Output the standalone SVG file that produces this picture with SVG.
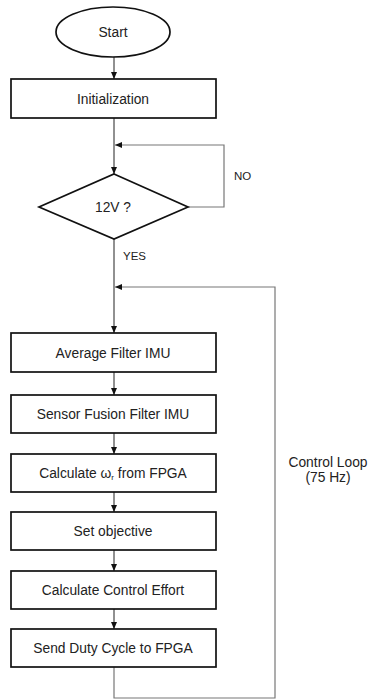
<svg xmlns="http://www.w3.org/2000/svg" width="375" height="700" viewBox="0 0 375 700">
<style>
.n{fill:#fff;stroke:#111;stroke-width:1.7}
.t{font-family:"Liberation Sans",Arial,sans-serif;font-size:13.8px;fill:#222;text-anchor:middle}
.l{font-family:"Liberation Sans",Arial,sans-serif;font-size:11.5px;fill:#222}
.c{fill:none;stroke:#222;stroke-width:1}
.g{fill:none;stroke:#777;stroke-width:1.2}
</style>
<defs>
<marker id="a" markerWidth="8" markerHeight="8" refX="7" refY="4" orient="auto" markerUnits="userSpaceOnUse">
<path d="M0,1 L7,4 L0,7 Z" fill="#111"/>
</marker>
</defs>
<rect width="375" height="700" fill="#fff"/>
<g id="connectors">
<line class="c" x1="114" y1="57" x2="114" y2="79" marker-end="url(#a)"/>
<line class="c" x1="114" y1="118" x2="114" y2="174" marker-end="url(#a)"/>
<polyline class="g" points="188,207 224,207 224,145 115,145" marker-end="url(#a)"/>
<line class="c" x1="114" y1="239" x2="114" y2="333" marker-end="url(#a)"/>
<polyline class="g" points="114,667 114,698 275,698 275,287 115,287" marker-end="url(#a)"/>
<line class="c" x1="114" y1="372" x2="114" y2="395" marker-end="url(#a)"/>
<line class="c" x1="114" y1="433" x2="114" y2="454" marker-end="url(#a)"/>
<line class="c" x1="114" y1="492" x2="114" y2="512" marker-end="url(#a)"/>
<line class="c" x1="114" y1="550" x2="114" y2="571" marker-end="url(#a)"/>
<line class="c" x1="114" y1="609" x2="114" y2="629" marker-end="url(#a)"/>
<text class="l" x="234" y="180">NO</text>
<text class="l" x="123" y="260">YES</text>
<text class="t" x="328" y="467" font-size="12.2">Control Loop</text>
<text class="t" x="328" y="482" font-size="12.2">(75 Hz)</text>
</g>
<g id="start"><ellipse class="n" cx="113" cy="32" rx="57" ry="25"/><text class="t" x="113" y="37">Start</text></g>
<g id="init"><rect class="n" x="11" y="79" width="205" height="39"/><text class="t" x="113" y="104">Initialization</text></g>
<g id="check"><polygon class="n" points="114,174 188,207 114,239 39,207"/><text class="t" x="113" y="212">12V ?</text></g>
<g id="avg"><rect class="n" x="11" y="333" width="205" height="39"/><text class="t" x="113" y="357.5">Average Filter IMU</text></g>
<g id="fusion"><rect class="n" x="11" y="395" width="205" height="38"/><text class="t" x="113" y="419">Sensor Fusion Filter IMU</text></g>
<g id="omega"><rect class="n" x="11" y="454" width="205" height="38"/><text class="t" x="113" y="478">Calculate ω<tspan font-size="8" dy="2">r</tspan><tspan dy="-2"> from FPGA</tspan></text></g>
<g id="objective"><rect class="n" x="11" y="512" width="205" height="38"/><text class="t" x="113" y="536">Set objective</text></g>
<g id="effort"><rect class="n" x="11" y="571" width="205" height="38"/><text class="t" x="113" y="595">Calculate Control Effort</text></g>
<g id="duty"><rect class="n" x="11" y="629" width="205" height="38"/><text class="t" x="113" y="653">Send Duty Cycle to FPGA</text></g>
</svg>
